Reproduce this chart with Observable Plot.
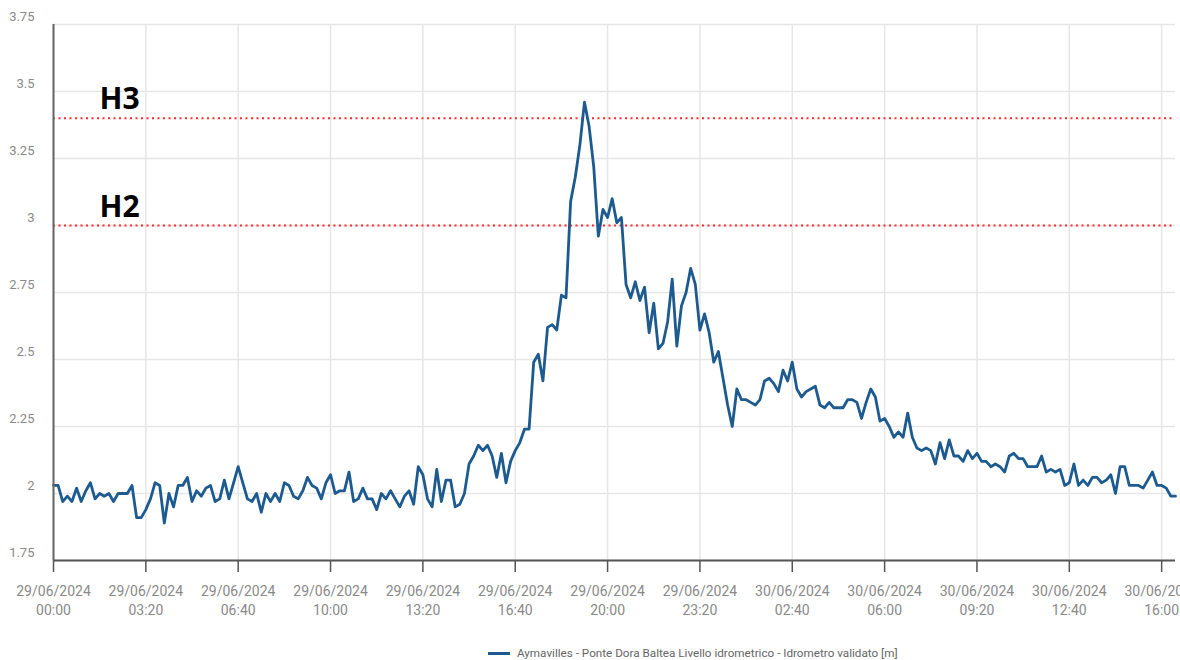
<!DOCTYPE html>
<html>
<head>
<meta charset="utf-8">
<script src="https://cdn.jsdelivr.net/npm/d3@7"></script>
<script src="https://cdn.jsdelivr.net/npm/@observablehq/plot@0.6"></script>
<style>
  html, body { margin: 0; padding: 0; background: #fff; }
  body { width: 1180px; height: 660px; overflow: hidden; position: relative; font-family: Roboto, sans-serif; }
  #chart { position: absolute; left: 0; top: 0; }
  #legend { position: absolute; left: 488px; top: 646px; white-space: nowrap; font-family: Roboto, sans-serif; font-size: 11.7px; color: #666; display: flex; align-items: center; }
  #legend .sw { display: inline-block; width: 22px; height: 3px; background: #1c5a8f; margin-right: 7px; }
</style>
</head>
<body>
<div id="chart"></div>
<div id="legend"><span class="sw"></span><span id="legendText"></span></div>
<script>
// ---- data ----
const seriesName = "Aymavilles - Ponte Dora Baltea Livello idrometrico - Idrometro validato [m]";
const startTime = "2024-06-29T00:00:00Z";   // first reading
const stepMinutes = 10;                      // reading interval
const levels = [
  2.03, 2.03, 1.97, 1.99, 1.97, 2.02, 1.97, 2.01, 2.04, 1.98,
  2.00, 1.99, 2.00, 1.97, 2.00, 2.00, 2.00, 2.03, 1.91, 1.91,
  1.94, 1.98, 2.04, 2.03, 1.89, 2.00, 1.95, 2.03, 2.03, 2.06,
  1.97, 2.01, 1.99, 2.02, 2.03, 1.97, 1.98, 2.05, 1.98, 2.04,
  2.10, 2.04, 1.98, 1.97, 2.00, 1.93, 2.00, 1.97, 2.00, 1.97,
  2.04, 2.03, 1.99, 1.98, 2.01, 2.06, 2.03, 2.02, 1.98, 2.04,
  2.07, 2.00, 2.01, 2.01, 2.08, 1.97, 1.98, 2.02, 1.98, 1.98,
  1.94, 2.00, 1.98, 2.01, 1.98, 1.95, 1.99, 2.01, 1.96, 2.10,
  2.07, 1.98, 1.95, 2.09, 1.97, 2.05, 2.05, 1.95, 1.96, 2.00,
  2.11, 2.14, 2.18, 2.16, 2.18, 2.14, 2.06, 2.15, 2.04, 2.12,
  2.16, 2.19, 2.24, 2.24, 2.49, 2.52, 2.42, 2.62, 2.63, 2.61,
  2.74, 2.73, 3.09, 3.18, 3.30, 3.46, 3.37, 3.22, 2.96, 3.06,
  3.03, 3.10, 3.01, 3.03, 2.78, 2.73, 2.79, 2.72, 2.77, 2.60,
  2.71, 2.54, 2.56, 2.64, 2.80, 2.55, 2.70, 2.75, 2.84, 2.78,
  2.61, 2.67, 2.60, 2.49, 2.53, 2.43, 2.33, 2.25, 2.39, 2.35,
  2.35, 2.34, 2.33, 2.35, 2.42, 2.43, 2.41, 2.38, 2.46, 2.42,
  2.49, 2.39, 2.36, 2.38, 2.39, 2.40, 2.33, 2.32, 2.34, 2.32,
  2.32, 2.32, 2.35, 2.35, 2.34, 2.28, 2.34, 2.39, 2.36, 2.27,
  2.28, 2.25, 2.21, 2.23, 2.21, 2.30, 2.21, 2.17, 2.16, 2.17,
  2.16, 2.11, 2.19, 2.13, 2.20, 2.14, 2.14, 2.12, 2.16, 2.13,
  2.15, 2.12, 2.12, 2.10, 2.11, 2.10, 2.08, 2.14, 2.15, 2.13,
  2.13, 2.10, 2.10, 2.10, 2.14, 2.08, 2.09, 2.08, 2.09, 2.03,
  2.04, 2.11, 2.03, 2.05, 2.03, 2.06, 2.06, 2.04, 2.05, 2.07,
  2.00, 2.10, 2.10, 2.03, 2.03, 2.03, 2.02, 2.05, 2.08, 2.03,
  2.03, 2.02, 1.99, 1.99
];
const xTickLabels = [
  "29/06/2024 00:00", "29/06/2024 03:20", "29/06/2024 06:40", "29/06/2024 10:00",
  "29/06/2024 13:20", "29/06/2024 16:40", "29/06/2024 20:00", "29/06/2024 23:20",
  "30/06/2024 02:40", "30/06/2024 06:00", "30/06/2024 09:20", "30/06/2024 12:40",
  "30/06/2024 16:00"
];
const xDomainLabels = ["29/06/2024 00:00", "30/06/2024 16:30"];
const yTicks = [1.75, 2, 2.25, 2.5, 2.75, 3, 3.25, 3.5, 3.75];
const thresholdNames = ["H3", "H2"];
const thresholdValues = [3.4, 3.0];

// ---- build tables ----
const parseLabel = d3.utcParse("%d/%m/%Y %H:%M");
const t0 = new Date(startTime);
const readings = levels.map((v, i) => ({time: new Date(+t0 + i * stepMinutes * 60000), level: v}));
const xTicks = xTickLabels.map(parseLabel);
const tickText = new Map(xTicks.map((d, i) => [+d, xTickLabels[i].replace(" ", "\n")]));
const xDomain = xDomainLabels.map(parseLabel);
const thresholds = thresholdNames.map((n, i) => ({name: n, value: thresholdValues[i]}));

const chart = Plot.plot({
  width: 1180,
  height: 625,
  marginLeft: 53,
  marginRight: 5,
  marginTop: 24,
  marginBottom: 65,
  style: {fontFamily: "Roboto, sans-serif", fontSize: "13px", background: "#fff"},
  x: {type: "utc", domain: xDomain},
  y: {domain: [1.75, 3.75]},
  marks: [
    Plot.gridY({ticks: yTicks, stroke: "#e6e6e6", strokeOpacity: 1, strokeWidth: 1.5}),
    Plot.gridX({ticks: xTicks, stroke: "#e6e6e6", strokeOpacity: 1, strokeWidth: 1.5}),
    Plot.axisY({ticks: yTicks, tickSize: 0, tickPadding: 19, dy: -8, fill: "#8a8a8a",
      fontSize: 13, tickFormat: d => String(d), label: null}),
    Plot.axisX({ticks: xTicks, tickSize: 12, tickPadding: 10, stroke: "#555", strokeWidth: 1.5,
      fill: "#8a8a8a", fontSize: 14, lineHeight: 1.35,
      tickFormat: d => tickText.get(+d), label: null}),
    Plot.ruleY(thresholds, {y: "value", stroke: "#ff2a2a", strokeWidth: 2, strokeDasharray: "2,3.5"}),
    Plot.text(thresholds, {y: "value", text: "name", frameAnchor: "left", dx: 46, dy: -9,
      textAnchor: "start", lineAnchor: "bottom", fontSize: 30, fontWeight: "bold",
      fontFamily: "Open Sans, sans-serif", fill: "#000"}),
    Plot.line(readings, {x: "time", y: "level", stroke: "#1c5a8f", strokeWidth: 2.8,
      strokeLinejoin: "round"}),
    Plot.ruleY([1.75], {stroke: "#555", strokeWidth: 2}),
    Plot.ruleX([xDomain[0]], {stroke: "#666", strokeWidth: 2})
  ]
});
document.getElementById("chart").appendChild(chart);
document.getElementById("legendText").textContent = seriesName;
</script>
</body>
</html>
